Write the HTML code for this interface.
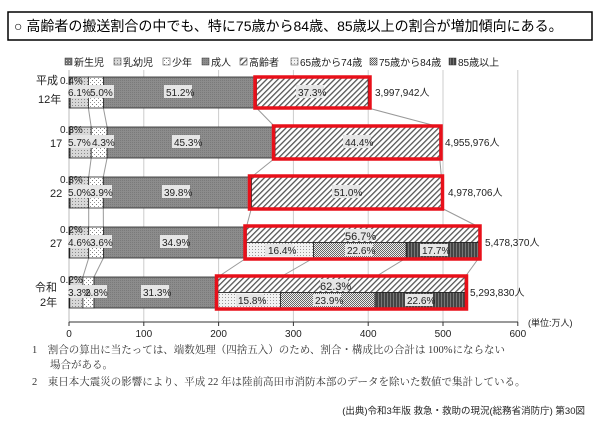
<!DOCTYPE html>
<html><head><meta charset="utf-8"><style>
body{margin:0;background:#fff;width:600px;height:422px;overflow:hidden;font-family:"Liberation Sans","Noto Sans CJK JP",sans-serif}
</style></head><body>
<svg width="600" height="422" viewBox="0 0 600 422" xmlns="http://www.w3.org/2000/svg" font-family="Liberation Sans, Noto Sans CJK JP, sans-serif">
<defs>
<pattern id="nb" width="3" height="3" patternUnits="userSpaceOnUse"><rect width="3" height="3" fill="#777"/><rect width="1" height="1" fill="#ddd"/></pattern>
<pattern id="inf" width="3" height="3" patternUnits="userSpaceOnUse"><rect width="3" height="3" fill="#d8d8d8"/><rect width="1" height="1" fill="#888"/></pattern>
<pattern id="ch" width="4" height="4" patternUnits="userSpaceOnUse"><rect width="4" height="4" fill="#fff"/><rect width="1" height="1" fill="#777"/><rect x="2" y="2" width="1" height="1" fill="#999"/></pattern>
<pattern id="ad" width="2" height="2" patternUnits="userSpaceOnUse"><rect width="2" height="2" fill="#8c8c8c"/><rect width="1" height="1" fill="#7a7a7a"/></pattern>
<pattern id="el" width="4" height="4" patternUnits="userSpaceOnUse" patternTransform="rotate(45)"><rect width="4" height="4" fill="#fff"/><rect width="1.3" height="4" fill="#555"/></pattern>
<pattern id="p65" width="3" height="3" patternUnits="userSpaceOnUse"><rect width="3" height="3" fill="#f2f2f2"/><rect width="1" height="1" fill="#999"/></pattern>
<pattern id="p75" width="2" height="2" patternUnits="userSpaceOnUse"><rect width="2" height="2" fill="#eee"/><rect width="1" height="1" fill="#666"/><rect x="1" y="1" width="1" height="1" fill="#666"/></pattern>
<pattern id="p85" width="3" height="3" patternUnits="userSpaceOnUse"><rect width="3" height="3" fill="#444"/><rect width="1" height="3" fill="#777"/></pattern>
</defs>
<rect x="8" y="12" width="584" height="28" fill="#fff" stroke="#000" stroke-width="1.5"/>
<text x="14" y="31" font-size="14">○ 高齢者の搬送割合の中でも、特に75歳から84歳、85歳以上の割合が増加傾向にある。</text>
<!-- legend -->
<g font-size="10" fill="#222">
<rect x="65" y="58" width="7" height="7" fill="url(#nb)" stroke="#333" stroke-width=".5"/><text x="74" y="66">新生児</text>
<rect x="114" y="58" width="7" height="7" fill="url(#inf)" stroke="#333" stroke-width=".5"/><text x="123" y="66">乳幼児</text>
<rect x="163" y="58" width="7" height="7" fill="url(#ch)" stroke="#333" stroke-width=".5"/><text x="172" y="66">少年</text>
<rect x="202" y="58" width="7" height="7" fill="url(#ad)" stroke="#333" stroke-width=".5"/><text x="211" y="66">成人</text>
<rect x="240" y="58" width="7" height="7" fill="url(#el)" stroke="#333" stroke-width=".5"/><text x="249" y="66">高齢者</text>
<rect x="291" y="58" width="7" height="7" fill="url(#p65)" stroke="#333" stroke-width=".5"/><text x="300" y="66">65歳から74歳</text>
<rect x="370" y="58" width="7" height="7" fill="url(#p75)" stroke="#333" stroke-width=".5"/><text x="379" y="66">75歳から84歳</text>
<rect x="449" y="58" width="7" height="7" fill="url(#p85)" stroke="#333" stroke-width=".5"/><text x="458" y="66">85歳以上</text>
</g>
<!-- grid -->
<g stroke="#ccc" stroke-width="1">
<line x1="143.8" y1="70" x2="143.8" y2="322"/><line x1="218.6" y1="70" x2="218.6" y2="322"/><line x1="293.4" y1="70" x2="293.4" y2="322"/><line x1="368.2" y1="70" x2="368.2" y2="322"/><line x1="443" y1="70" x2="443" y2="322"/><line x1="517.8" y1="70" x2="517.8" y2="322"/>
</g>
<line x1="69" y1="70" x2="69" y2="322" stroke="#bbb"/>
<!-- connectors -->
<g stroke="#999" stroke-width="1" fill="none">
<polyline points="88.4,108 91.2,127 91.2,158 88.7,177 88.7,208 88.7,227 88.7,258 82.9,277"/>
<polyline points="103.4,108 107.1,127 107.1,158 103.3,177 103.3,208 103.4,227 103.4,258 94,277"/>
<line x1="256.5" y1="108" x2="275.1" y2="127"/><line x1="368.1" y1="108" x2="439.7" y2="127"/>
<line x1="275.1" y1="158" x2="251.5" y2="177"/><line x1="439.7" y1="158" x2="441.4" y2="177"/>
<line x1="251.5" y1="208" x2="246.4" y2="227"/><line x1="441.4" y1="208" x2="478.8" y2="227"/>
<line x1="246.4" y1="258" x2="217.9" y2="277"/><line x1="313.6" y1="258" x2="280.5" y2="277"/><line x1="406.2" y1="258" x2="375.1" y2="277"/><line x1="478.8" y1="258" x2="465" y2="277"/>
</g>
<g stroke="#222" stroke-width=".8">
<rect x="69" y="77" width="1.2" height="31" fill="url(#nb)"/>
<rect x="70.2" y="77" width="18.2" height="31" fill="url(#inf)"/>
<rect x="88.4" y="77" width="15" height="31" fill="url(#ch)"/>
<rect x="103.4" y="77" width="153.1" height="31" fill="url(#ad)"/>
<rect x="256.5" y="77" width="111.6" height="31" fill="url(#el)"/>
<rect x="69" y="127" width="1.1" height="31" fill="url(#nb)"/>
<rect x="70.1" y="127" width="21.1" height="31" fill="url(#inf)"/>
<rect x="91.2" y="127" width="15.9" height="31" fill="url(#ch)"/>
<rect x="107.1" y="127" width="168" height="31" fill="url(#ad)"/>
<rect x="275.1" y="127" width="164.6" height="31" fill="url(#el)"/>
<rect x="69" y="177" width="1.1" height="31" fill="url(#nb)"/>
<rect x="70.1" y="177" width="18.6" height="31" fill="url(#inf)"/>
<rect x="88.7" y="177" width="14.6" height="31" fill="url(#ch)"/>
<rect x="103.3" y="177" width="148.2" height="31" fill="url(#ad)"/>
<rect x="251.5" y="177" width="189.9" height="31" fill="url(#el)"/>
<rect x="69" y="227" width=".8" height="31" fill="url(#nb)"/>
<rect x="69.8" y="227" width="18.9" height="31" fill="url(#inf)"/>
<rect x="88.7" y="227" width="14.7" height="31" fill="url(#ch)"/>
<rect x="103.4" y="227" width="143" height="31" fill="url(#ad)"/>
<rect x="246.4" y="227" width="232.4" height="15.5" fill="url(#el)"/>
<rect x="246.4" y="242.5" width="67.2" height="15.5" fill="url(#p65)"/>
<rect x="313.6" y="242.5" width="92.6" height="15.5" fill="url(#p75)"/>
<rect x="406.2" y="242.5" width="72.6" height="15.5" fill="url(#p85)"/>
<rect x="69" y="277" width=".8" height="31" fill="url(#nb)"/>
<rect x="69.8" y="277" width="13.1" height="31" fill="url(#inf)"/>
<rect x="82.9" y="277" width="11.1" height="31" fill="url(#ch)"/>
<rect x="94" y="277" width="123.9" height="31" fill="url(#ad)"/>
<rect x="217.9" y="277" width="247.1" height="15.5" fill="url(#el)"/>
<rect x="217.9" y="292.5" width="62.6" height="15.5" fill="url(#p65)"/>
<rect x="280.5" y="292.5" width="94.6" height="15.5" fill="url(#p75)"/>
<rect x="375.1" y="292.5" width="89.9" height="15.5" fill="url(#p85)"/>
</g>
<g fill="none" stroke="#e8101a" stroke-width="3.5">
<rect x="255" y="77" width="115" height="31"/>
<rect x="273.5" y="126" width="167.5" height="33"/>
<rect x="249.5" y="176" width="193" height="33"/>
<rect x="245" y="226" width="235" height="33"/>
<rect x="216.5" y="276" width="250" height="33"/>
</g>
<g font-size="10" fill="#222">
<g fill="#e6e6e6">
<rect x="68" y="85" width="24" height="13"/><rect x="90" y="85" width="24" height="13"/><rect x="164" y="85" width="28" height="13"/><rect x="296" y="85" width="28" height="13"/>
<rect x="68" y="135" width="24" height="13"/><rect x="90" y="135" width="24" height="13"/><rect x="172" y="135" width="28" height="13"/><rect x="343" y="135" width="28" height="13"/>
<rect x="68" y="185" width="24" height="13"/><rect x="88" y="185" width="24" height="13"/><rect x="162" y="185" width="28" height="13"/><rect x="332" y="185" width="28" height="13"/>
<rect x="68" y="235" width="24" height="13"/><rect x="88" y="235" width="24" height="13"/><rect x="160" y="235" width="28" height="13"/><rect x="345" y="229" width="28" height="12"/>
<rect x="68" y="285" width="24" height="13"/><rect x="83" y="285" width="24" height="13"/><rect x="141" y="285" width="28" height="13"/><rect x="320" y="279" width="28" height="12"/>
<rect x="265" y="244" width="28" height="12"/><rect x="345" y="244" width="28" height="12"/><rect x="420" y="244" width="28" height="12"/>
<rect x="236" y="294" width="28" height="12"/><rect x="313" y="294" width="28" height="12"/><rect x="405" y="294" width="28" height="12"/>
</g>
<text x="60" y="84">0.4%</text><text x="68" y="96">6.1%</text><text x="90" y="96">5.0%</text><text x="166" y="96">51.2%</text><text x="298" y="96">37.3%</text><text x="375" y="96">3,997,942人</text>
<text x="60" y="133">0.3%</text><text x="68" y="146">5.7%</text><text x="92" y="146">4.3%</text><text x="174" y="146">45.3%</text><text x="345" y="146">44.4%</text><text x="445" y="146">4,955,976人</text>
<text x="60" y="183">0.3%</text><text x="68" y="196">5.0%</text><text x="90" y="196">3.9%</text><text x="164" y="196">39.8%</text><text x="334" y="196">51.0%</text><text x="448" y="196">4,978,706人</text>
<text x="60" y="233">0.2%</text><text x="68" y="246">4.6%</text><text x="90" y="246">3.6%</text><text x="162" y="246">34.9%</text><text x="345" y="240" font-size="11">56.7%</text><text x="268" y="254">16.4%</text><text x="347" y="254">22.6%</text><text x="422" y="254">17.7%</text><text x="485" y="246">5,478,370人</text>
<text x="60" y="283">0.2%</text><text x="68" y="296">3.3%</text><text x="85" y="296">2.8%</text><text x="143" y="296">31.3%</text><text x="320" y="290" font-size="11">62.3%</text><text x="238" y="304">15.8%</text><text x="315" y="304">23.9%</text><text x="407" y="304">22.6%</text><text x="470" y="296">5,293,830人</text>
<text x="36" y="84" font-size="11">平成</text><text x="38" y="103" font-size="11">12年</text>
<text x="50" y="147" font-size="11">17</text><text x="50" y="197" font-size="11">22</text><text x="50" y="247" font-size="11">27</text>
<text x="35" y="291" font-size="11">令和</text><text x="40" y="306" font-size="11">2年</text>
</g>
<line x1="69" y1="322" x2="518" y2="322" stroke="#333"/>
<g stroke="#333"><line x1="69" y1="322" x2="69" y2="326"/><line x1="143.8" y1="322" x2="143.8" y2="326"/><line x1="218.6" y1="322" x2="218.6" y2="326"/><line x1="293.4" y1="322" x2="293.4" y2="326"/><line x1="368.2" y1="322" x2="368.2" y2="326"/><line x1="443" y1="322" x2="443" y2="326"/><line x1="517.8" y1="322" x2="517.8" y2="326"/></g>
<g font-size="10" fill="#222" text-anchor="middle">
<text x="69" y="337">0</text><text x="143.8" y="337">100</text><text x="218.6" y="337">200</text><text x="293.4" y="337">300</text><text x="368.2" y="337">400</text><text x="443" y="337">500</text><text x="517.8" y="337">600</text>
</g>
<text x="528" y="326" font-size="9" fill="#222">(単位:万人)</text>
<g font-family="Liberation Serif, Noto Serif CJK SC, serif" font-size="10.5" fill="#333">
<text x="32" y="353">1　割合の算出に当たっては、端数処理（四捨五入）のため、割合・構成比の合計は 100%にならない</text>
<text x="50" y="368">場合がある。</text>
<text x="32" y="385">2　東日本大震災の影響により、平成 22 年は陸前高田市消防本部のデータを除いた数値で集計している。</text>
</g>
<text x="585" y="414" font-size="9.5" fill="#222" text-anchor="end">(出典)令和3年版 救急・救助の現況(総務省消防庁) 第30図</text>
</svg>
</body></html>
